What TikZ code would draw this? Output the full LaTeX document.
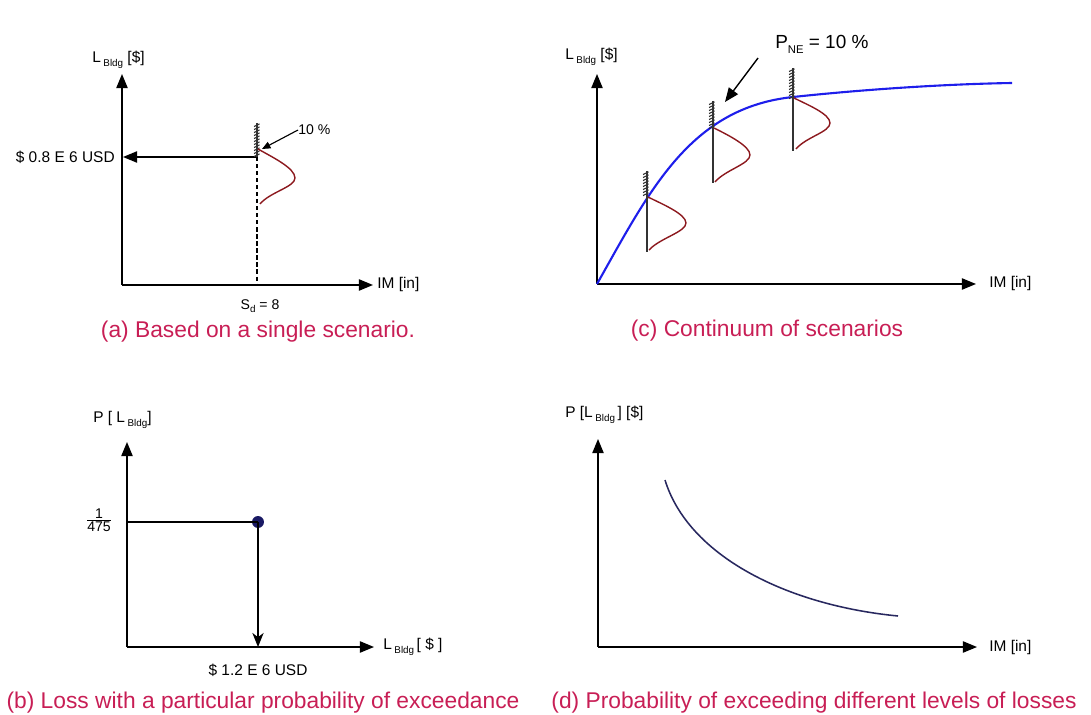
\documentclass[tikz,border=0pt]{standalone}
\usepackage{fontspec}
\setmainfont{Liberation Sans}
\usetikzlibrary{arrows.meta}
\definecolor{capred}{RGB}{200,30,85}
\definecolor{distred}{RGB}{140,25,30}
\definecolor{curveblue}{RGB}{30,30,235}
\definecolor{lossnavy}{RGB}{40,40,95}
\definecolor{dotblue}{RGB}{25,25,100}
\newcommand{\sbx}[1]{\raisebox{-0.55ex}{\fontsize{7}{8}\selectfont #1}}
\newcommand{\axfont}{\fontsize{11}{13}\selectfont}
\newcommand{\capfont}{\fontsize{16.2}{19}\selectfont}
\newcommand{\smfont}{\fontsize{10}{11}\selectfont}
\newcommand{\hatchstrip}[3]{\foreach \k in {0,...,#3}{\draw[hatchline] ({#1-3},{#2+3*\k+2.5}) -- ({#1+2.5},{#2+3*\k});}}
\begin{document}
\begin{tikzpicture}[x=0.025cm,y=-0.025cm,
  axis/.style={line width=1pt,-{Triangle[length=10pt,width=8pt]}},
  guide/.style={line width=0.9pt},
  hatchline/.style={line width=0.8pt,black!80},
  distline/.style={line width=0.8pt,black!80},
  distcurve/.style={line width=1pt,distred},
  axlabel/.style={font=\axfont,inner sep=0pt},
  caption/.style={font=\capfont,text=capred,inner sep=0pt},
  smlabel/.style={font=\smfont,inner sep=0pt}]
\useasboundingbox (0,0) rectangle (1091,715);

% ---------------- panel (a)
\coordinate (aO) at (122,285);
\coordinate (aY) at (122,74);
\coordinate (aX) at (373,285);
\draw[axis] (aO) -- (aY);
\draw[axis] (aO) -- (aX);
\node[axlabel,anchor=west] (aYl) at (92,60) {L\,\sbx{Bldg} [\$]};
\node[axlabel,anchor=west] (aXl) at (377,285) {IM [in]};
\coordinate (aLoss) at (257,157);
\coordinate (aLossAx) at (123,157);
\coordinate (aTop) at (257,123);
\coordinate (aFoot) at (257,285);
\draw[guide,-{Triangle[length=10pt,width=8pt]}] (aLoss) -- (aLossAx);
\draw[line width=0.8pt,dashed,dash pattern=on 3pt off 2pt] (aLoss) -- (aFoot);
\draw[distline] (aTop) -- (aLoss);
\hatchstrip{257}{124}{10}
\draw[distcurve] (258,149) .. controls (272,157) and (295,168) .. (295,178)
   .. controls (295,187) and (270,192) .. (260,204);
\node[axlabel,anchor=east] (aLossl) at (115,157) {\$ 0.8 E 6 USD};
\node[smlabel,anchor=west] (a10) at (298,130) {10 \%};
\draw[line width=0.8pt,-{Triangle[length=6pt,width=5pt]}] (a10.west) -- (262,149);
\node[smlabel] (aSd) at (260,306) {S\raisebox{-0.5ex}{\fontsize{7}{8}\selectfont d} = 8};
\node[caption] (capa) at (258,332) {(a) Based on a single scenario.};

% ---------------- panel (c)
\coordinate (cO) at (597,284);
\coordinate (cY) at (597,74);
\coordinate (cX) at (976,284);
\draw[axis] (cO) -- (cY);
\draw[axis] (cO) -- (cX);
\node[axlabel,anchor=west] (cYl) at (565,57) {L\,\sbx{Bldg} [\$]};
\node[axlabel,anchor=west] (cXl) at (989,284) {IM [in]};
\draw[curveblue,line width=1.5pt] (cO) .. controls (650,190) and (690,108) .. (793,97)
   .. controls (870,88.8) and (950,84) .. (1012,83);
% distributions
\coordinate (c1t) at (647,171); \coordinate (c1b) at (647,252);
\coordinate (c2t) at (713,101); \coordinate (c2b) at (713,183);
\coordinate (c3t) at (793,68);  \coordinate (c3b) at (793,151);
\draw[distline] (c1t) -- (c1b);
\draw[distline] (c2t) -- (c2b);
\draw[distline] (c3t) -- (c3b);
\hatchstrip{646}{172}{7}
\hatchstrip{712}{102}{8}
\hatchstrip{792}{69}{9}
\draw[distcurve] (648,197) .. controls (662,204) and (686,214) .. (686,223)
   .. controls (686,232) and (660,238) .. (649,250);
\draw[distcurve] (714,128) .. controls (728,135) and (750,146) .. (750,155)
   .. controls (750,164) and (725,170) .. (715,182);
\draw[distcurve] (794,98) .. controls (808,105) and (830,114) .. (830,123)
   .. controls (830,132) and (806,137) .. (796,149);
\node[font=\fontsize{13.5}{16}\selectfont,inner sep=0pt,anchor=west] (pne) at (775,44)
   {P\raisebox{-0.5ex}{\fontsize{8}{9}\selectfont NE} = 10 \%};
\coordinate (pneTip) at (725,102);
\draw[line width=1pt,-{Triangle[length=10pt,width=8pt]}] (758,58) -- (pneTip);
\node[caption] (capc) at (767,331) {(c) Continuum of scenarios};

% ---------------- panel (b)
\coordinate (bO) at (127,647);
\coordinate (bY) at (127,442);
\coordinate (bX) at (374,647);
\draw[axis] (bO) -- (bY);
\draw[axis] (bO) -- (bX);
\node[axlabel,anchor=west] (bYl) at (93,420) {P [ L\,\sbx{Bldg}]};
\node[axlabel,anchor=west] (bXl) at (383,647) {L\,\sbx{Bldg}\,[ \$ ]};
\coordinate (bAx) at (127,522);
\node[circle,fill=dotblue,minimum size=8.5pt,inner sep=0pt] (bDot) at (258,522) {};
\coordinate (bFoot) at (258,647);
\draw[guide] (bAx) -- (bDot.center);
\draw[guide,-{Stealth[length=10pt,width=8pt,inset=3pt]}] (bDot.center) -- (bFoot);
\node[font=\fontsize{10}{11}\selectfont,inner sep=0pt] (bFrac) at (99,520)
   {$\frac{\mbox{\fontsize{10}{11}\selectfont 1}}{\mbox{\fontsize{10}{11}\selectfont 475}}$};
\node[axlabel] (bLoss) at (258,670) {\$ 1.2 E 6 USD};
\node[caption] (capb) at (263,703) {(b) Loss with a particular probability of exceedance};

% ---------------- panel (d)
\coordinate (dO) at (598,647);
\coordinate (dY) at (598,439);
\coordinate (dX) at (977,647);
\draw[axis] (dO) -- (dY);
\draw[axis] (dO) -- (dX);
\node[axlabel,anchor=west] (dYl) at (565,415) {P [L\,\sbx{Bldg}\,] [\$]};
\node[axlabel,anchor=west] (dXl) at (989,647) {IM [in]};
\draw[lossnavy,line width=1.1pt] (665,480) .. controls (688,555) and (785,605) .. (898,616);
\node[caption] (capd) at (814,703) {(d) Probability of exceeding different levels of losses};
\end{tikzpicture}
\end{document}
